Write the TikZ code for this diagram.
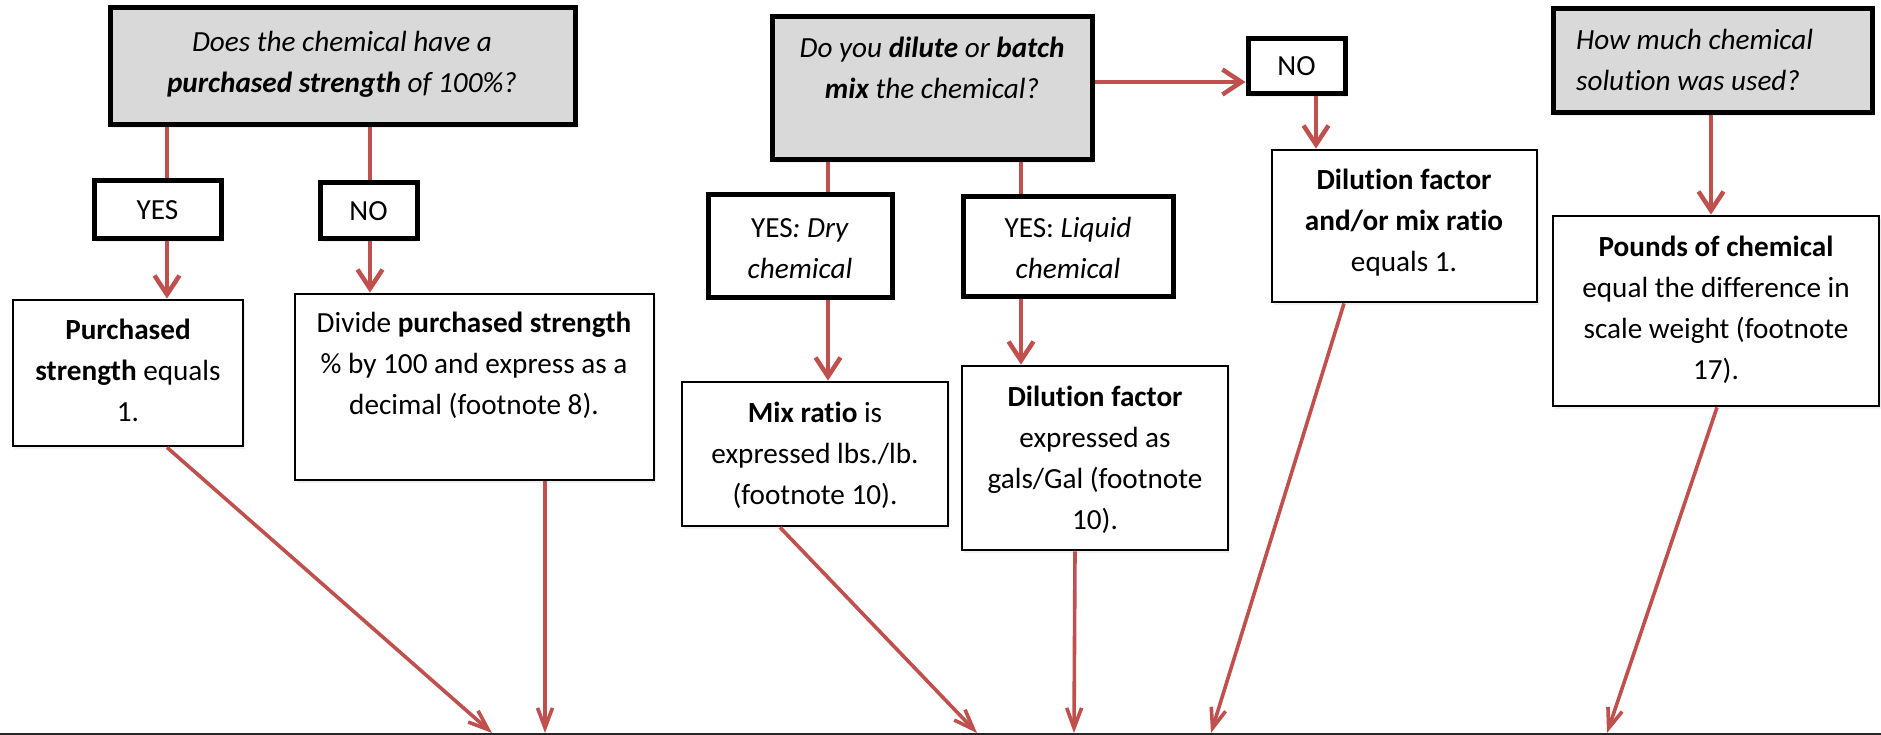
\documentclass[tikz,border=0pt]{standalone}
\usepackage{fontspec}
\setmainfont{Carlito}[Ligatures=CommonOff]
\usetikzlibrary{arrows.meta,shadows}
\definecolor{conred}{HTML}{C0504D}
\definecolor{qgray}{HTML}{D9D9D9}
\begin{document}
\begin{tikzpicture}[x=1pt,y=-1pt,
  box/.style={draw=black, line width=2.8pt, fill=white, inner sep=0pt,
    drop shadow={shadow xshift=2pt, shadow yshift=-3pt, fill=black!12}},
  thickbox/.style={box, line width=5pt, font=\fontsize{29.2}{41}\selectfont},
  qbox/.style={thickbox, fill=qgray},
  txt/.style={inner sep=0pt, anchor=north, align=center, font=\fontsize{29.2}{41}\selectfont},
  itxt/.style={txt, font=\fontsize{29.2}{41}\selectfont\itshape},
  conn/.style={draw=conred, line width=4.5pt},
  arr/.style={conn, -{Straight Barb[length=19pt,width=25pt]}},
  longarr/.style={draw=conred, line width=3.6pt, -{Straight Barb[length=20pt,width=15pt]}}
]
\useasboundingbox (0,0) rectangle (1881,735);

% ---------- boxes ----------
\node[qbox, minimum width=465pt, minimum height=117pt] (q1) at (342.5,66.5) {};
\node[thickbox, minimum width=127pt, minimum height=58pt] (yes1) at (157.5,210) {YES};
\node[thickbox, minimum width=97pt, minimum height=56pt] (no1) at (368.5,211) {NO};
\node[box, minimum width=230pt, minimum height=146pt] (p1) at (128,373) {};
\node[box, minimum width=359pt, minimum height=186pt] (d1) at (474.5,387) {};

\node[qbox, minimum width=320pt, minimum height=143pt] (q2) at (932,88.5) {};
\node[thickbox, minimum width=184pt, minimum height=102pt] (yd) at (800,246) {};
\node[thickbox, minimum width=210pt, minimum height=99pt] (yl) at (1068,246.5) {};
\node[thickbox, minimum width=97pt, minimum height=55pt] (no2) at (1296.5,66.5) {NO};
\node[box, minimum width=265pt, minimum height=152pt] (dm) at (1404.5,226) {};
\node[box, minimum width=266pt, minimum height=144pt] (mx) at (815,454) {};
\node[box, minimum width=266pt, minimum height=184pt] (df) at (1095,458) {};

\node[qbox, minimum width=319pt, minimum height=104pt] (q3) at (1712.5,61) {};
\node[box, minimum width=326pt, minimum height=190pt] (pd) at (1716,311) {};

% ---------- texts ----------
\node[itxt] (q1t) at (342,22.3) {\strut Does the chemical have a\\ \textbf{purchased strength} of 100\%?};
\node[txt] (p1t) at (128,310.3) {\strut\textbf{Purchased}\\ \textbf{strength} equals\\ 1.};
\node[txt] (d1t) at (474,303.3) {\strut Divide \textbf{purchased strength}\\ \% by 100 and express as a\\ decimal (footnote 8).};
\node[itxt] (q2t) at (932,28.3) {\strut Do you \textbf{dilute} or \textbf{batch}\\ \textbf{mix} the chemical?};
\node[txt] (ydt) at (800,208.3) {\strut YES\textit{: Dry}\\ \textit{chemical}};
\node[txt] (ylt) at (1068,208.3) {\strut YES: \textit{Liquid}\\ \textit{chemical}};
\node[txt] (dmt) at (1404,160.3) {\strut\textbf{Dilution factor}\\ \textbf{and/or mix ratio}\\ equals 1.};
\node[txt] (mxt) at (815,393.3) {\strut\textbf{Mix ratio} is\\ expressed lbs./lb.\\ (footnote 10).};
\node[txt] (dft) at (1095,377.3) {\strut\textbf{Dilution factor}\\ expressed as\\ gals/Gal (footnote\\ 10).};
\node[itxt, anchor=north west, align=left] (q3t) at (1576,20.3) {\strut How much chemical\\ solution was used?};
\node[txt] (pdt) at (1716,227.3) {\strut\textbf{Pounds of chemical}\\ equal the difference in\\ scale weight (footnote\\ 17).};

% ---------- guide coordinates ----------
\coordinate (c1) at (167,0);
\coordinate (c2) at (370,0);
\coordinate (c3) at (828,0);
\coordinate (c4) at (1021,0);
\coordinate (c5) at (1316,0);
\coordinate (c6) at (1711,0);
\coordinate (hy) at (0,82);
\coordinate (s2) at (545,0);
\coordinate (s3) at (780,0);
\coordinate (s4) at (1075,0);
\coordinate (s5) at (1344,0);
\coordinate (s6) at (1717,0);

% bottom edge (top of the next, cropped box)
\coordinate (bl) at (0,734);
\coordinate (br) at (1881,734);
\draw[line width=2pt, draw=black!85] (bl) -- (br);
\coordinate (e1) at (492,733);
\coordinate (e2) at (545,733);
\coordinate (e3) at (977,733);
\coordinate (e4) at (1074,733);
\coordinate (e5) at (1211,733);
\coordinate (e6) at (1607,733);

% ---------- connectors ----------
\draw[conn] (q1.south -| c1) -- (yes1.north -| c1);
\draw[arr] (yes1.south -| c1) -- (p1.north -| c1);
\draw[conn] (q1.south -| c2) -- (no1.north -| c2);
\draw[arr] (no1.south -| c2) -- (d1.north -| c2);

\draw[conn] (q2.south -| c3) -- (yd.north -| c3);
\draw[arr] (yd.south -| c3) -- (mx.north -| c3);
\draw[conn] (q2.south -| c4) -- (yl.north -| c4);
\draw[arr] (yl.south -| c4) -- (df.north -| c4);
\draw[arr] (q2.east |- hy) -- (no2.west |- hy);
\draw[arr] (no2.south -| c5) -- (dm.north -| c5);

\draw[arr] (q3.south -| c6) -- (pd.north -| c6);

\draw[longarr] (p1.south -| c1) -- (e1);
\draw[longarr] (d1.south -| s2) -- (e2);
\draw[longarr] (mx.south -| s3) -- (e3);
\draw[longarr] (df.south -| s4) -- (e4);
\draw[longarr] (dm.south -| s5) -- (e5);
\draw[longarr] (pd.south -| s6) -- (e6);
\end{tikzpicture}
\end{document}
